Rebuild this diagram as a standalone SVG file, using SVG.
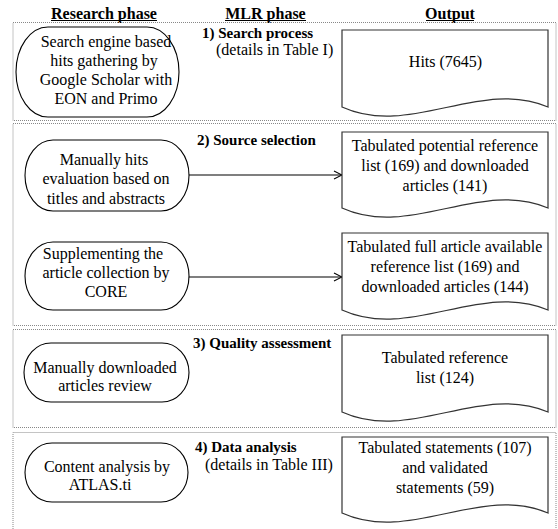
<svg xmlns="http://www.w3.org/2000/svg" width="558" height="529" viewBox="0 0 558 529" font-family="Liberation Serif, Times New Roman, serif">
<style>
.t{font-size:16px;text-anchor:middle;fill:#000}
.h{font-size:16px;font-weight:bold;text-anchor:middle;fill:#000}
.p{font-size:15px;font-weight:bold;fill:#000}
.d{font-size:16px;fill:#000}
.panel{fill:none;stroke:#888;stroke-width:1;stroke-dasharray:1 1}
.node{fill:#fff;stroke:#000;stroke-width:1.1}
.doc{fill:#fff;stroke:#333;stroke-width:1.2}
.conn{fill:none;stroke:#000;stroke-width:1.1}
</style>
<defs>
<marker id="arr" viewBox="0 0 10 10" refX="9" refY="5" markerWidth="10" markerHeight="10" markerUnits="userSpaceOnUse" orient="auto">
<path d="M1,1 L9,5 L1,9" fill="none" stroke="#000" stroke-width="1.1"/>
</marker>
</defs>
<rect width="558" height="529" fill="#fff"/>
<g id="headers">
<text class="h" x="104" y="18.5">Research phase</text>
<line x1="51" y1="20.5" x2="157" y2="20.5" stroke="#000" stroke-width="1"/>
<text class="h" x="265.5" y="18.5">MLR phase</text>
<line x1="225" y1="20.5" x2="306" y2="20.5" stroke="#000" stroke-width="1"/>
<text class="h" x="450" y="18.5">Output</text>
<line x1="426" y1="20.5" x2="474" y2="20.5" stroke="#000" stroke-width="1"/>
</g>
<g id="panels">
<rect class="panel" x="13" y="22.5" width="543" height="98"/>
<rect class="panel" x="13" y="123.5" width="543" height="202"/>
<rect class="panel" x="13" y="329.5" width="543" height="98"/>
<path class="panel" d="M13,529 V432.5 H556 V529"/>
</g>
<g id="phase-labels">
<text class="p" x="202" y="38">1) Search process</text>
<text class="d" x="216" y="55">(details in Table I)</text>
<text class="p" x="197" y="144.5">2) Source selection</text>
<text class="p" x="193" y="348">3) Quality assessment</text>
<text class="p" x="195" y="452">4) Data analysis</text>
<text class="d" x="205" y="470">(details in Table III)</text>
</g>
<g id="connectors">
<line class="conn" x1="189" y1="175" x2="342" y2="175" marker-end="url(#arr)"/>
<line class="conn" x1="189" y1="277" x2="342" y2="277" marker-end="url(#arr)"/>
</g>
<g id="node-search">
<rect class="node" x="16" y="27" width="163" height="90" rx="32" ry="45"/>
<text class="t" x="106" y="46.5">Search engine based</text>
<text class="t" x="104" y="65.8">hits gathering by</text>
<text class="t" x="106" y="85.1">Google Scholar with</text>
<text class="t" x="106" y="104.4">EON and Primo</text>
</g>
<g id="node-manual-eval">
<rect class="node" x="25" y="140" width="164" height="71" rx="28" ry="35.5"/>
<text class="t" x="104" y="165">Manually hits</text>
<text class="t" x="106" y="184.3">evaluation based on</text>
<text class="t" x="106" y="203.6">titles and abstracts</text>
</g>
<g id="node-core">
<rect class="node" x="25" y="242" width="164" height="68" rx="28" ry="34"/>
<text class="t" x="103" y="258.5">Supplementing the</text>
<text class="t" x="106" y="277.5">article collection by</text>
<text class="t" x="106" y="296.5">CORE</text>
</g>
<g id="node-review">
<rect class="node" x="24" y="343" width="165" height="59" rx="27" ry="29.5"/>
<text class="t" x="105" y="372.5">Manually downloaded</text>
<text class="t" x="105" y="391">articles review</text>
</g>
<g id="node-content">
<rect class="node" x="25" y="443" width="163" height="59" rx="27" ry="29.5"/>
<text class="t" x="107" y="471.5">Content analysis by</text>
<text class="t" x="100" y="490">ATLAS.ti</text>
</g>
<g id="doc-hits">
<path class="doc" d="M342,30 H548 V107 C480,78 410,138 342,107 Z"/>
<text class="t" x="445.5" y="67">Hits (7645)</text>
</g>
<g id="doc-potential">
<path class="doc" d="M342,132 H548 V208 C480,179 410,239 342,208 Z"/>
<text class="t" x="445" y="151">Tabulated potential reference</text>
<text class="t" x="445" y="171">list (169) and downloaded</text>
<text class="t" x="445" y="191">articles (141)</text>
</g>
<g id="doc-full">
<path class="doc" d="M342,233 H548 V310 C480,281 410,341 342,310 Z"/>
<text class="t" x="445" y="252">Tabulated full article available</text>
<text class="t" x="445" y="272">reference list (169) and</text>
<text class="t" x="445" y="292">downloaded articles (144)</text>
</g>
<g id="doc-reference">
<path class="doc" d="M342,335 H548 V412 C480,383 410,443 342,412 Z"/>
<text class="t" x="445" y="363">Tabulated reference</text>
<text class="t" x="445" y="383">list (124)</text>
</g>
<g id="doc-statements">
<path class="doc" d="M342,437 H548 V513 C480,484 410,544 342,513 Z"/>
<text class="t" x="445" y="453">Tabulated statements (107)</text>
<text class="t" x="445" y="473">and validated</text>
<text class="t" x="445" y="492.5">statements (59)</text>
</g>
</svg>
